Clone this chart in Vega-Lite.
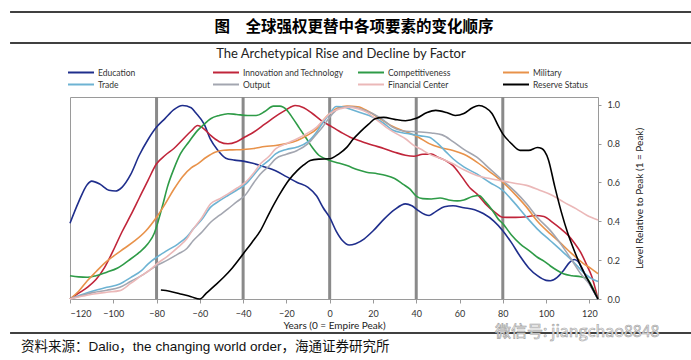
{
  "$schema": "https://vega.github.io/schema/vega-lite/v6.json",
  "width": 528,
  "height": 202,
  "autosize": {"type": "none"},
  "padding": {"left": 70, "top": 97, "right": 93, "bottom": 61},
  "background": "white",
  "config": {
    "view": {"stroke": "#9a9a9a", "strokeWidth": 1},
    "font": "Lato",
    "legend": {
      "orient": "none",
      "legendX": 3.5,
      "legendY": -32,
      "direction": "horizontal",
      "columns": 4,
      "gridAlign": "all",
      "symbolType": "M-2,0H2",
      "symbolSize": 169,
      "symbolStrokeWidth": 2,
      "labelFont": "Lato",
      "labelFontSize": 8.5,
      "labelColor": "#333333",
      "labelOffset": 9.5,
      "columnPadding": 10,
      "rowPadding": 0,
      "padding": 0,
      "labelLimit": 200
    }
  },
  "datasets": {
    "periods": [{"year": -80}, {"year": -40}, {"year": 0}, {"year": 40}, {"year": 80}],
    "factors": [
      {"factor": "Education", "year": -120, "value": 0.39},
      {"factor": "Education", "year": -116, "value": 0.5},
      {"factor": "Education", "year": -112, "value": 0.59},
      {"factor": "Education", "year": -110, "value": 0.607},
      {"factor": "Education", "year": -106, "value": 0.59},
      {"factor": "Education", "year": -102, "value": 0.56},
      {"factor": "Education", "year": -99, "value": 0.556},
      {"factor": "Education", "year": -96, "value": 0.575},
      {"factor": "Education", "year": -92, "value": 0.64},
      {"factor": "Education", "year": -88, "value": 0.74},
      {"factor": "Education", "year": -84, "value": 0.82},
      {"factor": "Education", "year": -80, "value": 0.885},
      {"factor": "Education", "year": -76, "value": 0.93},
      {"factor": "Education", "year": -72, "value": 0.975},
      {"factor": "Education", "year": -68, "value": 0.996},
      {"factor": "Education", "year": -64, "value": 0.985},
      {"factor": "Education", "year": -62, "value": 0.96},
      {"factor": "Education", "year": -58, "value": 0.9},
      {"factor": "Education", "year": -55, "value": 0.82},
      {"factor": "Education", "year": -52, "value": 0.77},
      {"factor": "Education", "year": -48, "value": 0.725},
      {"factor": "Education", "year": -44, "value": 0.715},
      {"factor": "Education", "year": -40, "value": 0.71},
      {"factor": "Education", "year": -36, "value": 0.7},
      {"factor": "Education", "year": -30, "value": 0.68},
      {"factor": "Education", "year": -25, "value": 0.66},
      {"factor": "Education", "year": -20, "value": 0.63},
      {"factor": "Education", "year": -15, "value": 0.6},
      {"factor": "Education", "year": -10, "value": 0.575},
      {"factor": "Education", "year": -6, "value": 0.53},
      {"factor": "Education", "year": -3, "value": 0.47},
      {"factor": "Education", "year": 0, "value": 0.42},
      {"factor": "Education", "year": 3, "value": 0.35},
      {"factor": "Education", "year": 6, "value": 0.3},
      {"factor": "Education", "year": 9, "value": 0.278},
      {"factor": "Education", "year": 12, "value": 0.285},
      {"factor": "Education", "year": 16, "value": 0.31},
      {"factor": "Education", "year": 20, "value": 0.35},
      {"factor": "Education", "year": 25, "value": 0.41},
      {"factor": "Education", "year": 30, "value": 0.46},
      {"factor": "Education", "year": 35, "value": 0.49},
      {"factor": "Education", "year": 38, "value": 0.48},
      {"factor": "Education", "year": 41, "value": 0.455},
      {"factor": "Education", "year": 44, "value": 0.435},
      {"factor": "Education", "year": 46, "value": 0.43},
      {"factor": "Education", "year": 49, "value": 0.45},
      {"factor": "Education", "year": 53, "value": 0.475},
      {"factor": "Education", "year": 57, "value": 0.48},
      {"factor": "Education", "year": 62, "value": 0.47},
      {"factor": "Education", "year": 67, "value": 0.46},
      {"factor": "Education", "year": 71, "value": 0.44},
      {"factor": "Education", "year": 76, "value": 0.4},
      {"factor": "Education", "year": 80, "value": 0.352},
      {"factor": "Education", "year": 84, "value": 0.29},
      {"factor": "Education", "year": 88, "value": 0.22},
      {"factor": "Education", "year": 92, "value": 0.16},
      {"factor": "Education", "year": 96, "value": 0.12},
      {"factor": "Education", "year": 100, "value": 0.096},
      {"factor": "Education", "year": 102, "value": 0.094},
      {"factor": "Education", "year": 105, "value": 0.11},
      {"factor": "Education", "year": 108, "value": 0.146},
      {"factor": "Education", "year": 111, "value": 0.19},
      {"factor": "Education", "year": 113, "value": 0.203},
      {"factor": "Education", "year": 115, "value": 0.19},
      {"factor": "Education", "year": 117, "value": 0.15},
      {"factor": "Education", "year": 120, "value": 0.08},
      {"factor": "Education", "year": 124, "value": 0.0},

      {"factor": "Innovation and Technology", "year": -120, "value": 0.0},
      {"factor": "Innovation and Technology", "year": -116, "value": 0.03},
      {"factor": "Innovation and Technology", "year": -112, "value": 0.06},
      {"factor": "Innovation and Technology", "year": -108, "value": 0.1},
      {"factor": "Innovation and Technology", "year": -104, "value": 0.163},
      {"factor": "Innovation and Technology", "year": -100, "value": 0.25},
      {"factor": "Innovation and Technology", "year": -96, "value": 0.345},
      {"factor": "Innovation and Technology", "year": -92, "value": 0.43},
      {"factor": "Innovation and Technology", "year": -88, "value": 0.52},
      {"factor": "Innovation and Technology", "year": -84, "value": 0.61},
      {"factor": "Innovation and Technology", "year": -80, "value": 0.696},
      {"factor": "Innovation and Technology", "year": -76, "value": 0.74},
      {"factor": "Innovation and Technology", "year": -72, "value": 0.775},
      {"factor": "Innovation and Technology", "year": -68, "value": 0.82},
      {"factor": "Innovation and Technology", "year": -64, "value": 0.865},
      {"factor": "Innovation and Technology", "year": -61, "value": 0.893},
      {"factor": "Innovation and Technology", "year": -58, "value": 0.875},
      {"factor": "Innovation and Technology", "year": -55, "value": 0.842},
      {"factor": "Innovation and Technology", "year": -51, "value": 0.81},
      {"factor": "Innovation and Technology", "year": -47, "value": 0.799},
      {"factor": "Innovation and Technology", "year": -43, "value": 0.81},
      {"factor": "Innovation and Technology", "year": -39, "value": 0.835},
      {"factor": "Innovation and Technology", "year": -35, "value": 0.86},
      {"factor": "Innovation and Technology", "year": -30, "value": 0.9},
      {"factor": "Innovation and Technology", "year": -25, "value": 0.94},
      {"factor": "Innovation and Technology", "year": -20, "value": 0.975},
      {"factor": "Innovation and Technology", "year": -16, "value": 0.996},
      {"factor": "Innovation and Technology", "year": -12, "value": 0.985},
      {"factor": "Innovation and Technology", "year": -8, "value": 0.955},
      {"factor": "Innovation and Technology", "year": -4, "value": 0.92},
      {"factor": "Innovation and Technology", "year": 0, "value": 0.893},
      {"factor": "Innovation and Technology", "year": 5, "value": 0.86},
      {"factor": "Innovation and Technology", "year": 10, "value": 0.83},
      {"factor": "Innovation and Technology", "year": 15, "value": 0.81},
      {"factor": "Innovation and Technology", "year": 20, "value": 0.792},
      {"factor": "Innovation and Technology", "year": 25, "value": 0.775},
      {"factor": "Innovation and Technology", "year": 30, "value": 0.756},
      {"factor": "Innovation and Technology", "year": 35, "value": 0.74},
      {"factor": "Innovation and Technology", "year": 39, "value": 0.735},
      {"factor": "Innovation and Technology", "year": 43, "value": 0.745},
      {"factor": "Innovation and Technology", "year": 47, "value": 0.746},
      {"factor": "Innovation and Technology", "year": 50, "value": 0.73},
      {"factor": "Innovation and Technology", "year": 54, "value": 0.71},
      {"factor": "Innovation and Technology", "year": 57, "value": 0.687},
      {"factor": "Innovation and Technology", "year": 61, "value": 0.63},
      {"factor": "Innovation and Technology", "year": 65, "value": 0.57},
      {"factor": "Innovation and Technology", "year": 68, "value": 0.541},
      {"factor": "Innovation and Technology", "year": 72, "value": 0.49},
      {"factor": "Innovation and Technology", "year": 76, "value": 0.45},
      {"factor": "Innovation and Technology", "year": 80, "value": 0.421},
      {"factor": "Innovation and Technology", "year": 84, "value": 0.42},
      {"factor": "Innovation and Technology", "year": 88, "value": 0.421},
      {"factor": "Innovation and Technology", "year": 92, "value": 0.425},
      {"factor": "Innovation and Technology", "year": 95, "value": 0.43},
      {"factor": "Innovation and Technology", "year": 99, "value": 0.425},
      {"factor": "Innovation and Technology", "year": 103, "value": 0.395},
      {"factor": "Innovation and Technology", "year": 107, "value": 0.36},
      {"factor": "Innovation and Technology", "year": 110, "value": 0.33},
      {"factor": "Innovation and Technology", "year": 113, "value": 0.29},
      {"factor": "Innovation and Technology", "year": 116, "value": 0.24},
      {"factor": "Innovation and Technology", "year": 119, "value": 0.17},
      {"factor": "Innovation and Technology", "year": 121, "value": 0.12},
      {"factor": "Innovation and Technology", "year": 124, "value": 0.0},

      {"factor": "Competitiveness", "year": -120, "value": 0.12},
      {"factor": "Competitiveness", "year": -116, "value": 0.114},
      {"factor": "Competitiveness", "year": -112, "value": 0.112},
      {"factor": "Competitiveness", "year": -108, "value": 0.12},
      {"factor": "Competitiveness", "year": -103, "value": 0.138},
      {"factor": "Competitiveness", "year": -98, "value": 0.16},
      {"factor": "Competitiveness", "year": -93, "value": 0.198},
      {"factor": "Competitiveness", "year": -88, "value": 0.24},
      {"factor": "Competitiveness", "year": -84, "value": 0.284},
      {"factor": "Competitiveness", "year": -81, "value": 0.34},
      {"factor": "Competitiveness", "year": -79, "value": 0.41},
      {"factor": "Competitiveness", "year": -77, "value": 0.49},
      {"factor": "Competitiveness", "year": -75, "value": 0.576},
      {"factor": "Competitiveness", "year": -72, "value": 0.67},
      {"factor": "Competitiveness", "year": -69, "value": 0.747},
      {"factor": "Competitiveness", "year": -65, "value": 0.81},
      {"factor": "Competitiveness", "year": -61, "value": 0.868},
      {"factor": "Competitiveness", "year": -58, "value": 0.9},
      {"factor": "Competitiveness", "year": -55, "value": 0.928},
      {"factor": "Competitiveness", "year": -51, "value": 0.945},
      {"factor": "Competitiveness", "year": -47, "value": 0.954},
      {"factor": "Competitiveness", "year": -43, "value": 0.95},
      {"factor": "Competitiveness", "year": -38, "value": 0.945},
      {"factor": "Competitiveness", "year": -34, "value": 0.945},
      {"factor": "Competitiveness", "year": -30, "value": 0.965},
      {"factor": "Competitiveness", "year": -26, "value": 0.993},
      {"factor": "Competitiveness", "year": -23, "value": 0.993},
      {"factor": "Competitiveness", "year": -20, "value": 0.975},
      {"factor": "Competitiveness", "year": -17, "value": 0.93},
      {"factor": "Competitiveness", "year": -14, "value": 0.88},
      {"factor": "Competitiveness", "year": -11, "value": 0.83},
      {"factor": "Competitiveness", "year": -8, "value": 0.78},
      {"factor": "Competitiveness", "year": -5, "value": 0.74},
      {"factor": "Competitiveness", "year": -2, "value": 0.722},
      {"factor": "Competitiveness", "year": 0, "value": 0.713},
      {"factor": "Competitiveness", "year": 4, "value": 0.7},
      {"factor": "Competitiveness", "year": 8, "value": 0.687},
      {"factor": "Competitiveness", "year": 13, "value": 0.665},
      {"factor": "Competitiveness", "year": 17, "value": 0.653},
      {"factor": "Competitiveness", "year": 22, "value": 0.645},
      {"factor": "Competitiveness", "year": 26, "value": 0.636},
      {"factor": "Competitiveness", "year": 30, "value": 0.62},
      {"factor": "Competitiveness", "year": 34, "value": 0.59},
      {"factor": "Competitiveness", "year": 37, "value": 0.567},
      {"factor": "Competitiveness", "year": 40, "value": 0.53},
      {"factor": "Competitiveness", "year": 43, "value": 0.517},
      {"factor": "Competitiveness", "year": 47, "value": 0.515},
      {"factor": "Competitiveness", "year": 51, "value": 0.52},
      {"factor": "Competitiveness", "year": 55, "value": 0.51},
      {"factor": "Competitiveness", "year": 59, "value": 0.505},
      {"factor": "Competitiveness", "year": 62, "value": 0.51},
      {"factor": "Competitiveness", "year": 66, "value": 0.528},
      {"factor": "Competitiveness", "year": 69, "value": 0.533},
      {"factor": "Competitiveness", "year": 72, "value": 0.5},
      {"factor": "Competitiveness", "year": 75, "value": 0.46},
      {"factor": "Competitiveness", "year": 78, "value": 0.41},
      {"factor": "Competitiveness", "year": 80, "value": 0.388},
      {"factor": "Competitiveness", "year": 84, "value": 0.33},
      {"factor": "Competitiveness", "year": 88, "value": 0.284},
      {"factor": "Competitiveness", "year": 92, "value": 0.25},
      {"factor": "Competitiveness", "year": 96, "value": 0.215},
      {"factor": "Competitiveness", "year": 99, "value": 0.195},
      {"factor": "Competitiveness", "year": 102, "value": 0.17},
      {"factor": "Competitiveness", "year": 105, "value": 0.148},
      {"factor": "Competitiveness", "year": 108, "value": 0.13},
      {"factor": "Competitiveness", "year": 112, "value": 0.12},
      {"factor": "Competitiveness", "year": 116, "value": 0.115},
      {"factor": "Competitiveness", "year": 119, "value": 0.105},
      {"factor": "Competitiveness", "year": 121, "value": 0.07},
      {"factor": "Competitiveness", "year": 124, "value": 0.0},

      {"factor": "Military", "year": -120, "value": 0.0},
      {"factor": "Military", "year": -116, "value": 0.04},
      {"factor": "Military", "year": -112, "value": 0.094},
      {"factor": "Military", "year": -108, "value": 0.14},
      {"factor": "Military", "year": -104, "value": 0.185},
      {"factor": "Military", "year": -100, "value": 0.22},
      {"factor": "Military", "year": -95, "value": 0.26},
      {"factor": "Military", "year": -90, "value": 0.3},
      {"factor": "Military", "year": -85, "value": 0.35},
      {"factor": "Military", "year": -80, "value": 0.421},
      {"factor": "Military", "year": -76, "value": 0.49},
      {"factor": "Military", "year": -72, "value": 0.565},
      {"factor": "Military", "year": -68, "value": 0.63},
      {"factor": "Military", "year": -64, "value": 0.675},
      {"factor": "Military", "year": -61, "value": 0.696},
      {"factor": "Military", "year": -57, "value": 0.73},
      {"factor": "Military", "year": -53, "value": 0.756},
      {"factor": "Military", "year": -49, "value": 0.766},
      {"factor": "Military", "year": -45, "value": 0.768},
      {"factor": "Military", "year": -40, "value": 0.77},
      {"factor": "Military", "year": -35, "value": 0.775},
      {"factor": "Military", "year": -30, "value": 0.785},
      {"factor": "Military", "year": -25, "value": 0.79},
      {"factor": "Military", "year": -20, "value": 0.8},
      {"factor": "Military", "year": -15, "value": 0.816},
      {"factor": "Military", "year": -10, "value": 0.845},
      {"factor": "Military", "year": -6, "value": 0.876},
      {"factor": "Military", "year": -3, "value": 0.92},
      {"factor": "Military", "year": 0, "value": 0.954},
      {"factor": "Military", "year": 4, "value": 0.985},
      {"factor": "Military", "year": 8, "value": 0.993},
      {"factor": "Military", "year": 13, "value": 0.99},
      {"factor": "Military", "year": 18, "value": 0.965},
      {"factor": "Military", "year": 23, "value": 0.93},
      {"factor": "Military", "year": 28, "value": 0.895},
      {"factor": "Military", "year": 33, "value": 0.87},
      {"factor": "Military", "year": 37, "value": 0.854},
      {"factor": "Military", "year": 41, "value": 0.833},
      {"factor": "Military", "year": 46, "value": 0.8},
      {"factor": "Military", "year": 51, "value": 0.78},
      {"factor": "Military", "year": 57, "value": 0.765},
      {"factor": "Military", "year": 62, "value": 0.745},
      {"factor": "Military", "year": 68, "value": 0.705},
      {"factor": "Military", "year": 74, "value": 0.655},
      {"factor": "Military", "year": 80, "value": 0.602},
      {"factor": "Military", "year": 86, "value": 0.535},
      {"factor": "Military", "year": 91, "value": 0.473},
      {"factor": "Military", "year": 96, "value": 0.4},
      {"factor": "Military", "year": 102, "value": 0.335},
      {"factor": "Military", "year": 107, "value": 0.285},
      {"factor": "Military", "year": 112, "value": 0.232},
      {"factor": "Military", "year": 117, "value": 0.185},
      {"factor": "Military", "year": 121, "value": 0.155},
      {"factor": "Military", "year": 124, "value": 0.13},

      {"factor": "Trade", "year": -120, "value": 0.0},
      {"factor": "Trade", "year": -114, "value": 0.025},
      {"factor": "Trade", "year": -109, "value": 0.043},
      {"factor": "Trade", "year": -103, "value": 0.06},
      {"factor": "Trade", "year": -97, "value": 0.077},
      {"factor": "Trade", "year": -92, "value": 0.11},
      {"factor": "Trade", "year": -87, "value": 0.146},
      {"factor": "Trade", "year": -84, "value": 0.18},
      {"factor": "Trade", "year": -80, "value": 0.215},
      {"factor": "Trade", "year": -75, "value": 0.25},
      {"factor": "Trade", "year": -70, "value": 0.284},
      {"factor": "Trade", "year": -66, "value": 0.32},
      {"factor": "Trade", "year": -63, "value": 0.361},
      {"factor": "Trade", "year": -59, "value": 0.41},
      {"factor": "Trade", "year": -55, "value": 0.473},
      {"factor": "Trade", "year": -51, "value": 0.505},
      {"factor": "Trade", "year": -47, "value": 0.533},
      {"factor": "Trade", "year": -43, "value": 0.56},
      {"factor": "Trade", "year": -39, "value": 0.59},
      {"factor": "Trade", "year": -35, "value": 0.64},
      {"factor": "Trade", "year": -32, "value": 0.679},
      {"factor": "Trade", "year": -28, "value": 0.715},
      {"factor": "Trade", "year": -25, "value": 0.747},
      {"factor": "Trade", "year": -20, "value": 0.77},
      {"factor": "Trade", "year": -15, "value": 0.782},
      {"factor": "Trade", "year": -10, "value": 0.81},
      {"factor": "Trade", "year": -6, "value": 0.86},
      {"factor": "Trade", "year": -3, "value": 0.91},
      {"factor": "Trade", "year": 0, "value": 0.954},
      {"factor": "Trade", "year": 3, "value": 0.991},
      {"factor": "Trade", "year": 6, "value": 0.99},
      {"factor": "Trade", "year": 9, "value": 0.979},
      {"factor": "Trade", "year": 14, "value": 0.96},
      {"factor": "Trade", "year": 20, "value": 0.936},
      {"factor": "Trade", "year": 25, "value": 0.905},
      {"factor": "Trade", "year": 29, "value": 0.87},
      {"factor": "Trade", "year": 34, "value": 0.855},
      {"factor": "Trade", "year": 37, "value": 0.85},
      {"factor": "Trade", "year": 42, "value": 0.84},
      {"factor": "Trade", "year": 46, "value": 0.833},
      {"factor": "Trade", "year": 50, "value": 0.8},
      {"factor": "Trade", "year": 54, "value": 0.755},
      {"factor": "Trade", "year": 57, "value": 0.722},
      {"factor": "Trade", "year": 62, "value": 0.68},
      {"factor": "Trade", "year": 68, "value": 0.644},
      {"factor": "Trade", "year": 74, "value": 0.6},
      {"factor": "Trade", "year": 80, "value": 0.559},
      {"factor": "Trade", "year": 85, "value": 0.5},
      {"factor": "Trade", "year": 91, "value": 0.421},
      {"factor": "Trade", "year": 96, "value": 0.36},
      {"factor": "Trade", "year": 102, "value": 0.3},
      {"factor": "Trade", "year": 107, "value": 0.25},
      {"factor": "Trade", "year": 112, "value": 0.198},
      {"factor": "Trade", "year": 117, "value": 0.14},
      {"factor": "Trade", "year": 121, "value": 0.105},
      {"factor": "Trade", "year": 124, "value": 0.09},

      {"factor": "Output", "year": -120, "value": 0.0},
      {"factor": "Output", "year": -114, "value": 0.02},
      {"factor": "Output", "year": -109, "value": 0.034},
      {"factor": "Output", "year": -103, "value": 0.045},
      {"factor": "Output", "year": -97, "value": 0.06},
      {"factor": "Output", "year": -92, "value": 0.09},
      {"factor": "Output", "year": -87, "value": 0.12},
      {"factor": "Output", "year": -83, "value": 0.15},
      {"factor": "Output", "year": -80, "value": 0.172},
      {"factor": "Output", "year": -75, "value": 0.2},
      {"factor": "Output", "year": -70, "value": 0.232},
      {"factor": "Output", "year": -66, "value": 0.26},
      {"factor": "Output", "year": -63, "value": 0.301},
      {"factor": "Output", "year": -59, "value": 0.345},
      {"factor": "Output", "year": -55, "value": 0.395},
      {"factor": "Output", "year": -51, "value": 0.43},
      {"factor": "Output", "year": -47, "value": 0.464},
      {"factor": "Output", "year": -43, "value": 0.5},
      {"factor": "Output", "year": -39, "value": 0.535},
      {"factor": "Output", "year": -35, "value": 0.6},
      {"factor": "Output", "year": -32, "value": 0.644},
      {"factor": "Output", "year": -28, "value": 0.685},
      {"factor": "Output", "year": -25, "value": 0.722},
      {"factor": "Output", "year": -20, "value": 0.745},
      {"factor": "Output", "year": -15, "value": 0.765},
      {"factor": "Output", "year": -10, "value": 0.8},
      {"factor": "Output", "year": -6, "value": 0.85},
      {"factor": "Output", "year": -3, "value": 0.89},
      {"factor": "Output", "year": 0, "value": 0.936},
      {"factor": "Output", "year": 4, "value": 0.979},
      {"factor": "Output", "year": 9, "value": 0.991},
      {"factor": "Output", "year": 14, "value": 0.98},
      {"factor": "Output", "year": 20, "value": 0.954},
      {"factor": "Output", "year": 25, "value": 0.92},
      {"factor": "Output", "year": 29, "value": 0.885},
      {"factor": "Output", "year": 34, "value": 0.865},
      {"factor": "Output", "year": 38, "value": 0.862},
      {"factor": "Output", "year": 42, "value": 0.86},
      {"factor": "Output", "year": 47, "value": 0.855},
      {"factor": "Output", "year": 52, "value": 0.845},
      {"factor": "Output", "year": 57, "value": 0.81},
      {"factor": "Output", "year": 62, "value": 0.77},
      {"factor": "Output", "year": 68, "value": 0.73},
      {"factor": "Output", "year": 74, "value": 0.67},
      {"factor": "Output", "year": 80, "value": 0.61},
      {"factor": "Output", "year": 86, "value": 0.55},
      {"factor": "Output", "year": 91, "value": 0.49},
      {"factor": "Output", "year": 96, "value": 0.42},
      {"factor": "Output", "year": 102, "value": 0.352},
      {"factor": "Output", "year": 107, "value": 0.28},
      {"factor": "Output", "year": 112, "value": 0.198},
      {"factor": "Output", "year": 116, "value": 0.13},
      {"factor": "Output", "year": 120, "value": 0.077},
      {"factor": "Output", "year": 124, "value": 0.0},

      {"factor": "Financial Center", "year": -120, "value": 0.0},
      {"factor": "Financial Center", "year": -114, "value": 0.015},
      {"factor": "Financial Center", "year": -109, "value": 0.026},
      {"factor": "Financial Center", "year": -103, "value": 0.035},
      {"factor": "Financial Center", "year": -97, "value": 0.043},
      {"factor": "Financial Center", "year": -92, "value": 0.08},
      {"factor": "Financial Center", "year": -87, "value": 0.12},
      {"factor": "Financial Center", "year": -83, "value": 0.15},
      {"factor": "Financial Center", "year": -80, "value": 0.18},
      {"factor": "Financial Center", "year": -75, "value": 0.22},
      {"factor": "Financial Center", "year": -70, "value": 0.267},
      {"factor": "Financial Center", "year": -66, "value": 0.31},
      {"factor": "Financial Center", "year": -63, "value": 0.361},
      {"factor": "Financial Center", "year": -59, "value": 0.42},
      {"factor": "Financial Center", "year": -55, "value": 0.49},
      {"factor": "Financial Center", "year": -51, "value": 0.515},
      {"factor": "Financial Center", "year": -47, "value": 0.541},
      {"factor": "Financial Center", "year": -43, "value": 0.57},
      {"factor": "Financial Center", "year": -39, "value": 0.6},
      {"factor": "Financial Center", "year": -35, "value": 0.65},
      {"factor": "Financial Center", "year": -32, "value": 0.696},
      {"factor": "Financial Center", "year": -28, "value": 0.735},
      {"factor": "Financial Center", "year": -25, "value": 0.773},
      {"factor": "Financial Center", "year": -20, "value": 0.8},
      {"factor": "Financial Center", "year": -15, "value": 0.825},
      {"factor": "Financial Center", "year": -10, "value": 0.855},
      {"factor": "Financial Center", "year": -6, "value": 0.885},
      {"factor": "Financial Center", "year": -3, "value": 0.92},
      {"factor": "Financial Center", "year": 0, "value": 0.954},
      {"factor": "Financial Center", "year": 5, "value": 0.98},
      {"factor": "Financial Center", "year": 9, "value": 0.988},
      {"factor": "Financial Center", "year": 13, "value": 0.98},
      {"factor": "Financial Center", "year": 17, "value": 0.962},
      {"factor": "Financial Center", "year": 22, "value": 0.92},
      {"factor": "Financial Center", "year": 26, "value": 0.885},
      {"factor": "Financial Center", "year": 31, "value": 0.85},
      {"factor": "Financial Center", "year": 35, "value": 0.825},
      {"factor": "Financial Center", "year": 39, "value": 0.79},
      {"factor": "Financial Center", "year": 42, "value": 0.772},
      {"factor": "Financial Center", "year": 46, "value": 0.746},
      {"factor": "Financial Center", "year": 51, "value": 0.725},
      {"factor": "Financial Center", "year": 57, "value": 0.696},
      {"factor": "Financial Center", "year": 62, "value": 0.665},
      {"factor": "Financial Center", "year": 68, "value": 0.636},
      {"factor": "Financial Center", "year": 74, "value": 0.62},
      {"factor": "Financial Center", "year": 80, "value": 0.607},
      {"factor": "Financial Center", "year": 86, "value": 0.595},
      {"factor": "Financial Center", "year": 91, "value": 0.585},
      {"factor": "Financial Center", "year": 97, "value": 0.56},
      {"factor": "Financial Center", "year": 103, "value": 0.533},
      {"factor": "Financial Center", "year": 108, "value": 0.5},
      {"factor": "Financial Center", "year": 114, "value": 0.464},
      {"factor": "Financial Center", "year": 119, "value": 0.43},
      {"factor": "Financial Center", "year": 124, "value": 0.407},

      {"factor": "Reserve Status", "year": -78, "value": 0.046},
      {"factor": "Reserve Status", "year": -74, "value": 0.04},
      {"factor": "Reserve Status", "year": -69, "value": 0.026},
      {"factor": "Reserve Status", "year": -64, "value": 0.012},
      {"factor": "Reserve Status", "year": -60, "value": 0.0},
      {"factor": "Reserve Status", "year": -57, "value": 0.03},
      {"factor": "Reserve Status", "year": -53, "value": 0.07},
      {"factor": "Reserve Status", "year": -49, "value": 0.112},
      {"factor": "Reserve Status", "year": -45, "value": 0.16},
      {"factor": "Reserve Status", "year": -40, "value": 0.232},
      {"factor": "Reserve Status", "year": -36, "value": 0.29},
      {"factor": "Reserve Status", "year": -32, "value": 0.352},
      {"factor": "Reserve Status", "year": -28, "value": 0.44},
      {"factor": "Reserve Status", "year": -23, "value": 0.541},
      {"factor": "Reserve Status", "year": -19, "value": 0.61},
      {"factor": "Reserve Status", "year": -15, "value": 0.661},
      {"factor": "Reserve Status", "year": -12, "value": 0.69},
      {"factor": "Reserve Status", "year": -9, "value": 0.713},
      {"factor": "Reserve Status", "year": -5, "value": 0.72},
      {"factor": "Reserve Status", "year": 0, "value": 0.722},
      {"factor": "Reserve Status", "year": 4, "value": 0.745},
      {"factor": "Reserve Status", "year": 8, "value": 0.782},
      {"factor": "Reserve Status", "year": 11, "value": 0.825},
      {"factor": "Reserve Status", "year": 14, "value": 0.859},
      {"factor": "Reserve Status", "year": 18, "value": 0.9},
      {"factor": "Reserve Status", "year": 21, "value": 0.928},
      {"factor": "Reserve Status", "year": 25, "value": 0.935},
      {"factor": "Reserve Status", "year": 30, "value": 0.925},
      {"factor": "Reserve Status", "year": 35, "value": 0.918},
      {"factor": "Reserve Status", "year": 40, "value": 0.93},
      {"factor": "Reserve Status", "year": 45, "value": 0.96},
      {"factor": "Reserve Status", "year": 49, "value": 0.971},
      {"factor": "Reserve Status", "year": 54, "value": 0.96},
      {"factor": "Reserve Status", "year": 58, "value": 0.945},
      {"factor": "Reserve Status", "year": 62, "value": 0.955},
      {"factor": "Reserve Status", "year": 66, "value": 0.985},
      {"factor": "Reserve Status", "year": 69, "value": 0.996},
      {"factor": "Reserve Status", "year": 72, "value": 0.985},
      {"factor": "Reserve Status", "year": 75, "value": 0.955},
      {"factor": "Reserve Status", "year": 78, "value": 0.89},
      {"factor": "Reserve Status", "year": 80, "value": 0.85},
      {"factor": "Reserve Status", "year": 84, "value": 0.8},
      {"factor": "Reserve Status", "year": 88, "value": 0.765},
      {"factor": "Reserve Status", "year": 92, "value": 0.765},
      {"factor": "Reserve Status", "year": 96, "value": 0.78},
      {"factor": "Reserve Status", "year": 98, "value": 0.775},
      {"factor": "Reserve Status", "year": 101, "value": 0.72},
      {"factor": "Reserve Status", "year": 104, "value": 0.58},
      {"factor": "Reserve Status", "year": 107, "value": 0.45},
      {"factor": "Reserve Status", "year": 110, "value": 0.34},
      {"factor": "Reserve Status", "year": 113, "value": 0.25},
      {"factor": "Reserve Status", "year": 116, "value": 0.17},
      {"factor": "Reserve Status", "year": 120, "value": 0.085},
      {"factor": "Reserve Status", "year": 124, "value": 0.0}
    ]
  },
  "layer": [
    {
      "data": {"name": "periods"},
      "mark": {"type": "rule", "color": "#8a8a8a", "strokeWidth": 3},
      "encoding": {
        "x": {"field": "year", "type": "quantitative", "scale": {"domain": [-120, 124], "nice": false, "zero": false}}
      }
    },
    {
      "data": {"name": "factors"},
      "mark": {"type": "line", "strokeWidth": 1.6, "interpolate": "monotone"},
      "encoding": {
        "x": {
          "field": "year", "type": "quantitative",
          "scale": {"domain": [-120, 124], "nice": false, "zero": false},
          "axis": {
            "values": [-120, -100, -80, -60, -40, -20, 0, 20, 40, 60, 80, 100, 120],
            "title": "Years (0 = Empire Peak)",
            "grid": false,
            "domainColor": "#9a9a9a",
            "tickColor": "#9a9a9a",
            "tickSize": 4,
            "labelFont": "Lato",
            "labelFontSize": 9,
            "labelColor": "#333333",
            "labelPadding": 6,
            "titleFont": "Lato",
            "titleFontSize": 10,
            "titleFontWeight": "normal",
            "titleColor": "#222222",
            "titlePadding": 2
          }
        },
        "y": {
          "field": "value", "type": "quantitative",
          "scale": {"domain": [0, 1.04], "nice": false},
          "axis": {
            "orient": "right",
            "values": [0, 0.2, 0.4, 0.6, 0.8, 1.0],
            "format": ".1f",
            "title": "Level Relative to Peak (1 = Peak)",
            "grid": false,
            "domainColor": "#9a9a9a",
            "tickColor": "#9a9a9a",
            "tickSize": 3,
            "labelFont": "Lato",
            "labelFontSize": 9,
            "labelColor": "#333333",
            "labelPadding": 6,
            "titleFont": "Lato",
            "titleFontSize": 10,
            "titleFontWeight": "normal",
            "titleColor": "#222222",
            "titleAngle": 270,
            "titlePadding": 25
          }
        },
        "color": {
          "field": "factor", "type": "nominal",
          "scale": {
            "domain": ["Education", "Innovation and Technology", "Competitiveness", "Military", "Trade", "Output", "Financial Center", "Reserve Status"],
            "range": ["#1f2e8c", "#c0253a", "#2e9b47", "#e8924a", "#6db3d3", "#a3a6b0", "#ebb8b8", "#000000"]
          },
          "legend": {"title": null}
        }
      }
    },
    {
      "data": {"values": [{"place": "top"}]},
      "mark": {"type": "rule", "color": "#000000", "strokeWidth": 1.5},
      "encoding": {
        "x": {"datum": -147.7, "type": "quantitative", "scale": {"domain": [-120, 124], "nice": false, "zero": false}},
        "x2": {"datum": 167},
        "y": {"datum": 1.478, "type": "quantitative", "scale": {"domain": [0, 1.04], "nice": false}}
      }
    },
    {
      "data": {"values": [{"place": "under title"}]},
      "mark": {"type": "rule", "color": "#000000", "strokeWidth": 1.5},
      "encoding": {
        "x": {"datum": -147.7, "type": "quantitative", "scale": {"domain": [-120, 124], "nice": false, "zero": false}},
        "x2": {"datum": 167},
        "y": {"datum": 1.318, "type": "quantitative", "scale": {"domain": [0, 1.04], "nice": false}}
      }
    },
    {
      "data": {"values": [{"place": "above source"}]},
      "mark": {"type": "rule", "color": "#000000", "strokeWidth": 1.5},
      "encoding": {
        "x": {"datum": -147.7, "type": "quantitative", "scale": {"domain": [-120, 124], "nice": false, "zero": false}},
        "x2": {"datum": 167},
        "y": {"datum": -0.175, "type": "quantitative", "scale": {"domain": [0, 1.04], "nice": false}}
      }
    },
    {
      "data": {"values": [{"note": "header"}]},
      "mark": {"type": "text", "align": "center", "baseline": "middle", "font": "Noto Sans CJK SC", "fontWeight": "bold", "fontSize": 15.5, "color": "#000000", "text": "图　全球强权更替中各项要素的变化顺序"},
      "encoding": {
        "x": {"datum": 11.2, "type": "quantitative", "scale": {"domain": [-120, 124], "nice": false, "zero": false}},
        "y": {"datum": 1.4006, "type": "quantitative", "scale": {"domain": [0, 1.04], "nice": false}}
      }
    },
    {
      "data": {"values": [{"note": "chart title"}]},
      "mark": {"type": "text", "align": "center", "baseline": "middle", "font": "Lato", "fontSize": 13, "color": "#222222", "text": "The Archetypical Rise and Decline by Factor"},
      "encoding": {
        "x": {"datum": 5.2, "type": "quantitative", "scale": {"domain": [-120, 124], "nice": false, "zero": false}},
        "y": {"datum": 1.2616, "type": "quantitative", "scale": {"domain": [0, 1.04], "nice": false}}
      }
    },
    {
      "data": {"values": [{"note": "source"}]},
      "mark": {"type": "text", "align": "left", "baseline": "middle", "font": "Liberation Sans, Noto Sans CJK SC", "fontSize": 13.5, "color": "#111111", "text": "资料来源：Dalio，the changing world order，海通证券研究所"},
      "encoding": {
        "x": {"datum": -142.6, "type": "quantitative", "scale": {"domain": [-120, 124], "nice": false, "zero": false}},
        "y": {"datum": -0.247, "type": "quantitative", "scale": {"domain": [0, 1.04], "nice": false}}
      }
    },
    {
      "data": {"values": [{"note": "watermark"}]},
      "mark": {"type": "text", "align": "left", "baseline": "middle", "font": "Noto Sans CJK SC", "fontSize": 16, "color": "#f4f4f4", "stroke": "#a0a0a0", "strokeWidth": 0.6, "text": "微信号: jiangchao8848"},
      "encoding": {
        "x": {"datum": 76.4, "type": "quantitative", "scale": {"domain": [-120, 124], "nice": false, "zero": false}},
        "y": {"datum": -0.172, "type": "quantitative", "scale": {"domain": [0, 1.04], "nice": false}}
      }
    }
  ]
}
